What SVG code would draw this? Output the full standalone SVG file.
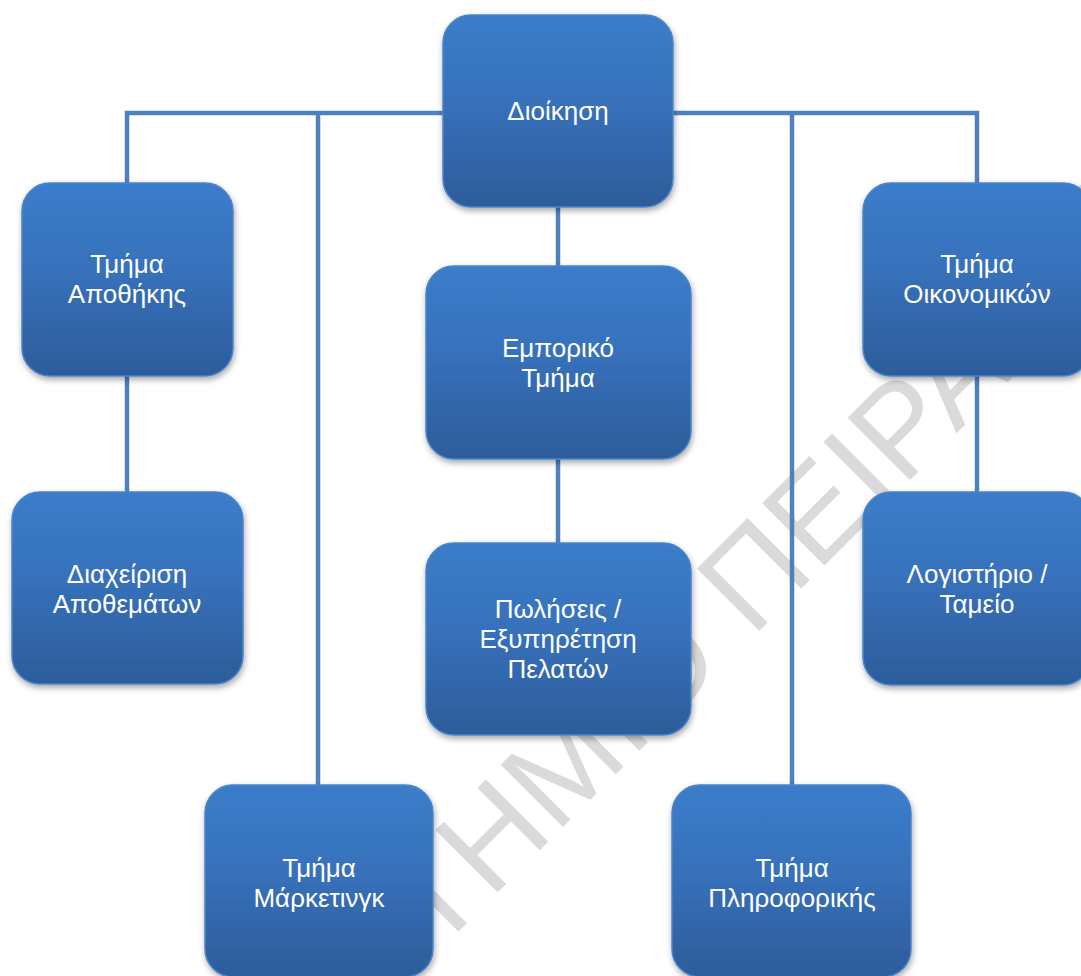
<svg xmlns="http://www.w3.org/2000/svg" width="1081" height="976" viewBox="0 0 1081 976">
<defs>
<linearGradient id="g" x1="0" y1="0" x2="0" y2="1">
<stop offset="0" stop-color="#3b7dcb"/>
<stop offset="0.45" stop-color="#3771bb"/>
<stop offset="1" stop-color="#2d5c9a"/>
</linearGradient>
<filter id="sh" x="-10%" y="-10%" width="120%" height="125%">
<feGaussianBlur in="SourceAlpha" stdDeviation="3"/>
<feOffset dx="1" dy="3" result="b"/>
<feComponentTransfer><feFuncA type="linear" slope="0.35"/></feComponentTransfer>
<feMerge><feMergeNode/><feMergeNode in="SourceGraphic"/></feMerge>
</filter>
</defs>
<style>
.box{fill:url(#g);stroke:#4a84cc;stroke-width:1.5;filter:url(#sh)}
.t{font-family:"Liberation Sans",Arial,sans-serif;font-size:26px;fill:#ffffff;text-anchor:middle}
.c{fill:none;stroke:#4f81bd;stroke-width:4.5}
.wm{font-family:"Liberation Sans",Arial,sans-serif;font-size:128px;fill:#dadada}
</style>
<rect width="1081" height="976" fill="#ffffff"/>
<text class="wm" transform="translate(37,1353) rotate(-45)">ΠΑΝΕΠΙΣΤΗΜΙΟ ΠΕΙΡΑΙΩΣ</text>
<g id="connectors">
<path class="c" d="M127,183 V113 H977 V183"/>
<path class="c" d="M318,113 V785"/>
<path class="c" d="M792,113 V785"/>
<path class="c" d="M558,207 V266"/>
<path class="c" d="M558,459 V543"/>
<path class="c" d="M127,376 V492"/>
<path class="c" d="M977,376 V492"/>
</g>
<g id="n-dioikisi"><rect class="box" x="443" y="15" width="230" height="192" rx="28"/><text class="t" x="558" y="120">Διοίκηση</text></g>
<g id="n-apothikis"><rect class="box" x="22" y="183" width="211" height="193" rx="28"/><text class="t" x="127" y="273">Τμήμα</text><text class="t" x="127" y="303">Αποθήκης</text></g>
<g id="n-diaxeirisi"><rect class="box" x="12" y="492" width="231" height="192" rx="28"/><text class="t" x="127" y="583">Διαχείριση</text><text class="t" x="127" y="613">Αποθεμάτων</text></g>
<g id="n-emporiko"><rect class="box" x="426" y="266" width="265" height="193" rx="28"/><text class="t" x="558" y="357">Εμπορικό</text><text class="t" x="558" y="387">Τμήμα</text></g>
<g id="n-poliseis"><rect class="box" x="426" y="543" width="265" height="192" rx="28"/><text class="t" x="558" y="618">Πωλήσεις /</text><text class="t" x="558" y="648">Εξυπηρέτηση</text><text class="t" x="558" y="678">Πελατών</text></g>
<g id="n-oikonomikon"><rect class="box" x="863" y="183" width="228" height="193" rx="28"/><text class="t" x="977" y="273">Τμήμα</text><text class="t" x="977" y="303">Οικονομικών</text></g>
<g id="n-logistirio"><rect class="box" x="863" y="492" width="228" height="193" rx="28"/><text class="t" x="977" y="583">Λογιστήριο /</text><text class="t" x="977" y="613">Ταμείο</text></g>
<g id="n-marketing"><rect class="box" x="205" y="785" width="228" height="192" rx="28"/><text class="t" x="319" y="877">Τμήμα</text><text class="t" x="319" y="907">Μάρκετινγκ</text></g>
<g id="n-pliroforikis"><rect class="box" x="672" y="785" width="239" height="192" rx="28"/><text class="t" x="792" y="877">Τμήμα</text><text class="t" x="792" y="907">Πληροφορικής</text></g>
</svg>
